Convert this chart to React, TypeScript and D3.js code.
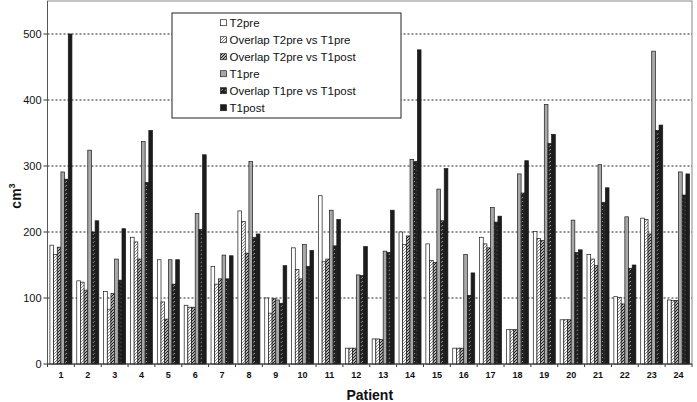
import React from "react";
import * as d3 from "d3";

const patients = d3.range(1, 25).map(String);
const seriesNames = [
  "T2pre",
  "Overlap T2pre vs T1pre",
  "Overlap T2pre vs T1post",
  "T1pre",
  "Overlap T1pre vs T1post",
  "T1post",
];
const t2pre = [180, 126, 110, 192, 158, 89, 148, 232, 100, 176, 255, 24, 38, 200, 182, 24, 192, 52, 201, 67, 166, 102, 221, 97];
const overlapT2preT1pre = [166, 124, 83, 185, 94, 86, 121, 216, 77, 143, 155, 24, 38, 181, 157, 24, 182, 52, 190, 67, 159, 101, 219, 96];
const overlapT2preT1post = [177, 112, 107, 159, 68, 86, 129, 168, 99, 129, 159, 24, 37, 194, 154, 24, 176, 52, 187, 67, 149, 91, 197, 96];
const t1pre = [291, 324, 159, 337, 158, 228, 165, 307, 97, 181, 233, 135, 171, 310, 265, 166, 237, 288, 393, 218, 302, 223, 474, 291];
const overlapT1preT1post = [280, 200, 127, 275, 121, 204, 129, 192, 92, 148, 179, 134, 169, 307, 217, 104, 215, 259, 334, 169, 245, 145, 354, 256];
const t1post = [500, 217, 205, 354, 158, 317, 164, 197, 149, 172, 219, 178, 233, 476, 296, 138, 224, 308, 348, 173, 267, 150, 362, 288];
const yTicks = [0, 100, 200, 300, 400, 500];

const seriesData = [t2pre, overlapT2preT1pre, overlapT2preT1post, t1pre, overlapT1preT1post, t1post];
const fills = ["#ffffff", "url(#pO1)", "url(#pO2)", "#a8a8a8", "url(#pO3)", "#1c1c1c"];

export default function App() {
  const W = 697, H = 402;
  const left = 47.5, right = 692, top = 1, bottom = 364;
  const x = d3.scaleBand<string>().domain(patients).range([left, right]).paddingInner(0.18).paddingOuter(0.09);
  const step = (right - left) / patients.length;
  const xs = d3.scaleBand<number>().domain(d3.range(6)).range([0, x.bandwidth()]).padding(0);
  const y = d3.scaleLinear().domain([0, 500]).range([bottom, bottom - 330]);
  const font = "Arial, 'Liberation Sans', sans-serif";

  return (
    <svg width={W} height={H} style={{ position: "absolute", left: 0, top: 0, background: "#fff" }} fontFamily={font}>
      <defs>
        <pattern id="pO1" patternUnits="userSpaceOnUse" width="3" height="3">
          <rect width="3" height="3" fill="#fff" />
          <path d="M-1,1 L1,-1 M0,3 L3,0 M2,4 L4,2" stroke="#666" strokeWidth="0.8" />
        </pattern>
        <pattern id="pO2" patternUnits="userSpaceOnUse" width="3" height="3">
          <rect width="3" height="3" fill="#fff" />
          <path d="M-1,1 L1,-1 M0,3 L3,0 M2,4 L4,2" stroke="#111" strokeWidth="1.2" />
        </pattern>
        <pattern id="pO3" patternUnits="userSpaceOnUse" width="4" height="4">
          <rect width="4" height="4" fill="#222" />
          <path d="M1.2,2.6 L2.6,1.2" stroke="#fff" strokeWidth="0.8" />
        </pattern>
      </defs>
      <rect x={left} y={top} width={right - left} height={bottom - top} fill="#fff" stroke="#888" strokeWidth={1} />
      {yTicks.filter((t) => t > 0).map((t) => (
        <line key={t} x1={left} x2={right} y1={y(t)} y2={y(t)} stroke="#222" strokeWidth={1} strokeDasharray="2,2" />
      ))}
      {yTicks.map((t) => (
        <g key={"yt" + t}>
          <line x1={left - 4} x2={left} y1={y(t)} y2={y(t)} stroke="#333" />
          <text x={left - 6} y={y(t)} dy="0.35em" textAnchor="end" fontSize={11} fill="#111">{t}</text>
        </g>
      ))}
      {seriesData.map((vals, si) => (
        <g key={"s" + si}>
          {vals.map((v, i) => (
            <rect
              key={i}
              x={(x(patients[i]) as number) + (xs(si) as number)}
              y={y(v)}
              width={xs.bandwidth()}
              height={bottom - y(v)}
              fill={fills[si]}
              stroke="#1a1a1a"
              strokeWidth={0.7}
            />
          ))}
        </g>
      ))}
      <line x1={left} x2={right} y1={bottom} y2={bottom} stroke="#333" strokeWidth={1} />
      <line x1={left} x2={left} y1={top} y2={bottom} stroke="#555" strokeWidth={1} />
      {d3.range(patients.length + 1).map((i) => (
        <line key={"xt" + i} x1={left + i * step} x2={left + i * step} y1={bottom} y2={bottom + 3} stroke="#333" />
      ))}
      {patients.map((p) => (
        <text key={"xl" + p} x={(x(p) as number) + x.bandwidth() / 2} y={378} textAnchor="middle" fontSize={9} fontWeight="bold" fill="#111">{p}</text>
      ))}
      <text x={(left + right) / 2} y={399.5} textAnchor="middle" fontSize={14} fontWeight="bold" fill="#111">Patient</text>
      <text transform="translate(21,196) rotate(-90)" textAnchor="middle" fontSize={14} fontWeight="bold" fill="#111">
        cm<tspan dy="-6" fontSize={9}>3</tspan>
      </text>
      <g>
        <rect x={172} y={13} width={229} height={105} fill="#fff" stroke="#222" strokeWidth={1} />
        {seriesNames.map((n, i) => {
          const cy = 22.7 + i * 17;
          return (
            <g key={"lg" + i}>
              <rect x={220.5} y={cy - 3} width={6} height={6} fill={fills[i]} stroke="#222" strokeWidth={0.7} />
              <text x={229.5} y={cy} dy="0.36em" fontSize={11.5} fill="#111">{n}</text>
            </g>
          );
        })}
      </g>
    </svg>
  );
}
